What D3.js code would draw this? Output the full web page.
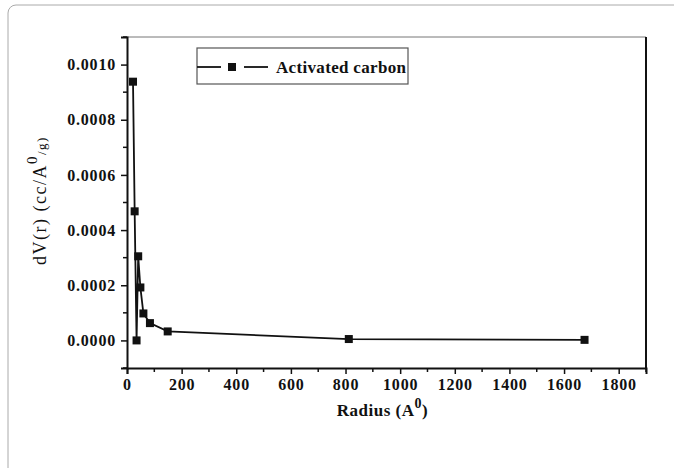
<!DOCTYPE html>
<html>
<head>
<meta charset="utf-8">
<script src="https://cdn.jsdelivr.net/npm/d3@7"></script>
<style>
  body { margin: 0; background: #fff; }
  svg text { font-family: "Liberation Serif", "DejaVu Serif", serif; fill: #111; }
</style>
</head>
<body>
<script>
// data
const radius = [22, 28, 35, 41, 49, 60, 84, 149, 812, 1675];
const dV = [0.000938, 0.000468, 0.0, 0.000305, 0.000192, 0.0000978, 0.0000627, 0.0000326, 0.000005, 0.000002];
const seriesName = "Activated carbon";
const xTicks = [0, 200, 400, 600, 800, 1000, 1200, 1400, 1600, 1800];
const yTicks = [0.0000, 0.0002, 0.0004, 0.0006, 0.0008, 0.0010];

const W = 674, H = 468;
const plot = {left: 127, right: 646, top: 37, bottom: 368};

let svg = d3.select("body").append("svg")
    .attr("width", W)
    .attr("height", H);

// outer card border
svg.append("rect")
    .attr("x", 8).attr("y", 5)
    .attr("width", 700).attr("height", 500)
    .attr("rx", 8)
    .attr("fill", "none")
    .attr("stroke", "#aaa")
    .attr("stroke-width", 1);

let x = d3.scaleLinear().domain([0, 1900]).range([plot.left, plot.right]);
let y = d3.scaleLinear().domain([-0.0001, 0.0011]).range([plot.bottom, plot.top]);

// frame: top line thin gray, right side black
svg.append("line")
    .attr("x1", plot.left).attr("x2", plot.right)
    .attr("y1", plot.top).attr("y2", plot.top)
    .attr("stroke", "#777").attr("stroke-width", 1);
svg.append("line")
    .attr("x1", plot.right).attr("x2", plot.right)
    .attr("y1", plot.top).attr("y2", plot.bottom)
    .attr("stroke", "#111").attr("stroke-width", 2);

// minor ticks
let xMinor = d3.range(100, 2000, 200);
let yMinor = d3.range(-0.0001, 0.00111, 0.0002);

let xAxis = svg.append("g")
    .attr("transform", "translate(0," + plot.bottom + ")")
    .call(d3.axisBottom(x).tickValues(xTicks).tickSize(6).tickPadding(5).tickFormat(d3.format("d")));
xAxis.append("g").selectAll("line")
    .data(xMinor)
    .enter().append("line")
    .attr("x1", d => x(d)).attr("x2", d => x(d))
    .attr("y1", 0).attr("y2", 4)
    .attr("stroke", "#111").attr("stroke-width", 1.5);

let yAxis = svg.append("g")
    .attr("transform", "translate(" + plot.left + ",0)")
    .call(d3.axisLeft(y).tickValues(yTicks).tickSize(6).tickPadding(5).tickFormat(d3.format(".4f")));
yAxis.append("g").selectAll("line")
    .data(yMinor)
    .enter().append("line")
    .attr("x1", 0).attr("x2", -4)
    .attr("y1", d => y(d)).attr("y2", d => y(d))
    .attr("stroke", "#111").attr("stroke-width", 1.5);

[xAxis, yAxis].forEach(function (a) {
    a.select(".domain").attr("stroke", "#111").attr("stroke-width", 2);
    a.selectAll(".tick line").attr("stroke", "#111").attr("stroke-width", 1.5);
    a.selectAll(".tick text")
        .attr("font-family", "Liberation Serif, serif")
        .attr("font-weight", "bold")
        .attr("font-size", 16)
        .attr("letter-spacing", 0.8)
        .attr("fill", "#111");
});

// series
let line = d3.line()
    .x((d, i) => x(radius[i]))
    .y(d => y(d));

svg.append("path")
    .datum(dV)
    .attr("d", line)
    .attr("fill", "none")
    .attr("stroke", "#111")
    .attr("stroke-width", 1.8);

const ms = 8;
svg.append("g").selectAll("rect")
    .data(dV)
    .enter().append("rect")
    .attr("x", (d, i) => x(radius[i]) - ms / 2)
    .attr("y", d => y(d) - ms / 2)
    .attr("width", ms).attr("height", ms)
    .attr("fill", "#111");

// legend
let lg = svg.append("g").attr("transform", "translate(197,48)");
lg.append("rect")
    .attr("width", 211).attr("height", 36)
    .attr("fill", "#fff")
    .attr("stroke", "#555").attr("stroke-width", 1.2);
lg.append("line").attr("x1", 0).attr("x2", 24).attr("y1", 19).attr("y2", 19)
    .attr("stroke", "#111").attr("stroke-width", 1.8);
lg.append("line").attr("x1", 47).attr("x2", 71).attr("y1", 19).attr("y2", 19)
    .attr("stroke", "#111").attr("stroke-width", 1.8);
lg.append("rect").attr("x", 31).attr("y", 15).attr("width", ms).attr("height", ms).attr("fill", "#111");
lg.append("text")
    .attr("x", 79).attr("y", 25)
    .attr("font-weight", "bold")
    .attr("font-size", 17)
    .attr("textLength", 130)
    .text(seriesName);

// axis titles
let xt = svg.append("text")
    .attr("x", (plot.left + plot.right) / 2 - 4)
    .attr("y", 416)
    .attr("text-anchor", "middle")
    .attr("font-weight", "bold")
    .attr("font-size", 17)
    .attr("letter-spacing", 0.5);
xt.append("tspan").text("Radius (A");
xt.append("tspan").attr("dy", -8).attr("font-size", 14).text("0");
xt.append("tspan").attr("dy", 8).text(")");

let yt = svg.append("text")
    .attr("transform", "translate(46," + ((plot.top + plot.bottom) / 2 - 2) + ") rotate(-90)")
    .attr("text-anchor", "middle")
    .attr("font-size", 18)
    .attr("letter-spacing", 1.5);
yt.append("tspan").text("dV(r)  (cc/A");
yt.append("tspan").attr("dy", -9).attr("font-size", 15).text("0");
yt.append("tspan").attr("dy", 9).attr("font-size", 13).text("/g)");
</script>
</body>
</html>
